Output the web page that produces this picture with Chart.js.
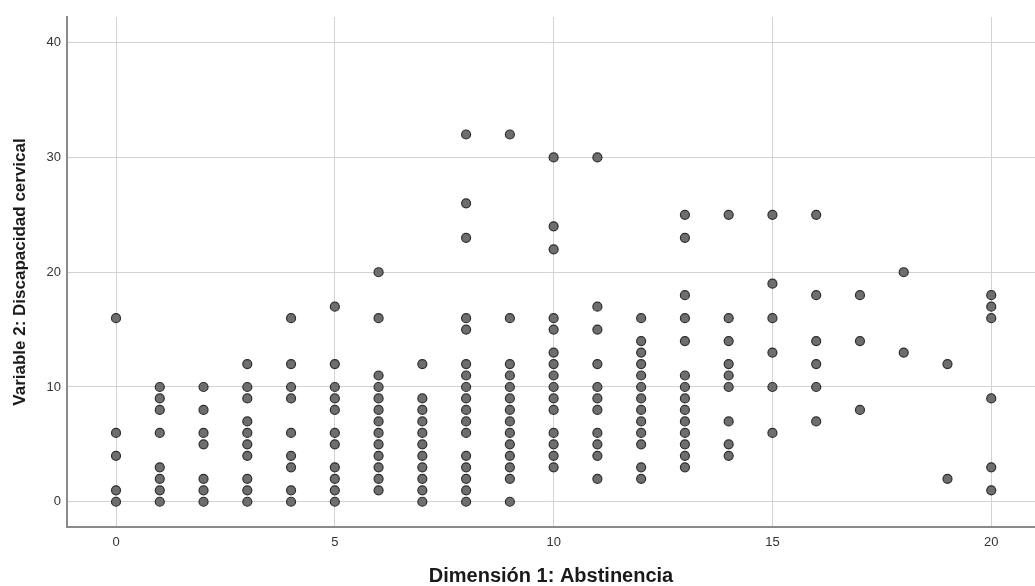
<!DOCTYPE html>
<html>
<head>
<meta charset="utf-8">
<script src="https://cdn.jsdelivr.net/npm/chart.js@4"></script>
<style>
html,body{margin:0;padding:0;background:#fff;overflow:hidden;}
canvas{display:block;}
</style>
</head>
<body>
<canvas id="c" width="1035" height="586"></canvas>
<script>
// Dimensión 1: Abstinencia (x categories)
const abstinencia = [0,1,2,3,4,5,6,7,8,9,10,11,12,13,14,15,16,17,18,19,20];
// Variable 2: Discapacidad cervical values observed at each abstinencia score
const discapacidadPorAbstinencia = [
  [16,6,4,1,0],
  [10,9,8,6,3,2,1,0],
  [10,8,6,5,2,1,0],
  [12,10,9,7,6,5,4,2,1,0],
  [16,12,10,9,6,4,3,1,0],
  [17,12,10,9,8,6,5,3,2,1,0],
  [20,16,11,10,9,8,7,6,5,4,3,2,1],
  [12,9,8,7,6,5,4,3,2,1,0],
  [32,26,23,16,15,12,11,10,9,8,7,6,4,3,2,1,0],
  [32,16,12,11,10,9,8,7,6,5,4,3,2,0],
  [30,24,22,16,15,13,12,11,10,9,8,6,5,4,3],
  [30,17,15,12,10,9,8,6,5,4,2],
  [16,14,13,12,11,10,9,8,7,6,5,3,2],
  [25,23,18,16,14,11,10,9,8,7,6,5,4,3],
  [25,16,14,12,11,10,7,5,4],
  [25,19,16,13,10,6],
  [25,18,14,12,10,7],
  [18,14,8],
  [20,13],
  [12,2],
  [18,17,16,9,3,1]
];
const xTicks = [0,5,10,15,20];
const yTicks = [0,10,20,30,40];
const xTitle = 'Dimensión 1: Abstinencia';
const yTitle = 'Variable 2: Discapacidad cervical';

const points = [];
abstinencia.forEach((x, i) => {
  discapacidadPorAbstinencia[i].forEach(y => points.push({x: x, y: y}));
});

const FONT = "Arial, 'Liberation Sans', sans-serif";

new Chart(document.getElementById('c'), {
  type: 'scatter',
  data: {
    datasets: [{
      data: points,
      pointRadius: 4.5,
      pointHoverRadius: 4.5,
      pointBackgroundColor: '#6e6e6e',
      pointBorderColor: '#2e2e2e',
      pointBorderWidth: 1.2,
      showLine: false
    }]
  },
  options: {
    responsive: false,
    animation: false,
    devicePixelRatio: 1,
    events: [],
    layout: {autoPadding: false, padding: {top: 17, right: 0, bottom: 0, left: 0}},
    plugins: {legend: {display: false}, tooltip: {enabled: false}},
    scales: {
      x: {
        type: 'linear',
        min: -1.12,
        max: 21.0,
        afterBuildTicks: s => { s.ticks = xTicks.map(v => ({value: v})); },
        afterFit: s => { s.height = 59; s.paddingLeft = 0; s.paddingRight = 0; },
        grid: {color: '#d2d2d2', lineWidth: 1, drawTicks: false},
        border: {display: true, color: '#8a8a8a', width: 2},
        ticks: {padding: 8, color: '#333', font: {family: FONT, size: 13}, maxRotation: 0, autoSkip: false},
        title: {display: true, text: xTitle, color: '#1a1a1a',
                font: {family: FONT, size: 20, weight: 'bold', lineHeight: 1},
                padding: {top: 0, bottom: 0}}
      },
      y: {
        type: 'linear',
        min: -2.2,
        max: 42.24,
        afterBuildTicks: s => { s.ticks = yTicks.map(v => ({value: v})); },
        afterFit: s => { s.width = 67; s.paddingTop = 0; s.paddingBottom = 0; },
        grid: {color: '#d2d2d2', lineWidth: 1, drawTicks: false},
        border: {display: true, color: '#8a8a8a', width: 2},
        ticks: {padding: 6, color: '#333', font: {family: FONT, size: 13}, autoSkip: false},
        title: {display: true, text: yTitle, color: '#1a1a1a',
                font: {family: FONT, size: 17, weight: 'bold', lineHeight: 1.2},
                padding: {top: 10, bottom: 0}}
      }
    }
  }
});
</script>
</body>
</html>
